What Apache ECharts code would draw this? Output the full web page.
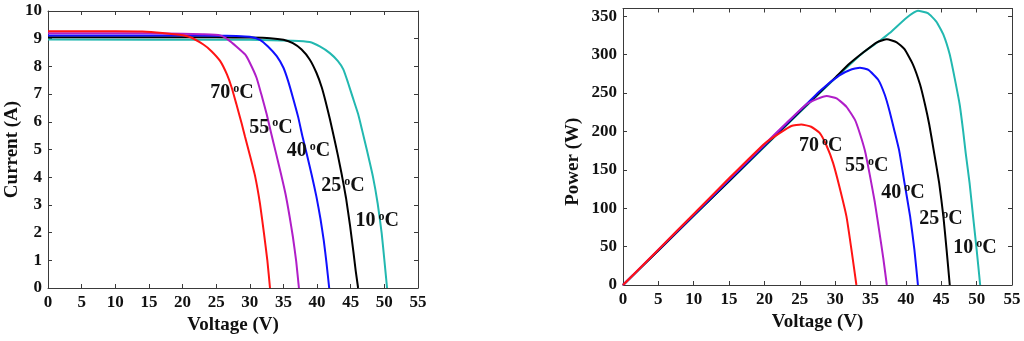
<!DOCTYPE html>
<html>
<head>
<meta charset="utf-8">
<script src="https://cdn.jsdelivr.net/npm/echarts@6/dist/echarts.min.js"></script>
<style>
  html, body { margin: 0; padding: 0; background: #fff; }
  #chart { width: 1024px; height: 341px; }
</style>
</head>
<body>
<div id="chart"></div>
<script>
// Module temperatures, one curve each
const temperatures = ['70', '55', '40', '25', '10'];

// I-V characteristics: [voltage V, current A]
const iv70 = [[0, 9.27], [10, 9.27], [14, 9.26], [17, 9.21], [19.5, 9.14], [21.1, 9.06], [23.1, 8.79], [24.3, 8.55], [25.6, 8.19], [26.6, 7.71], [27.3, 7.24], [28.0, 6.64], [28.8, 5.93], [29.3, 5.45], [30.0, 4.8], [30.8, 4.02], [31.5, 3.06], [32.1, 1.98], [32.6, 1.01], [33.0, 0]];
const iv55 = [[0, 9.2], [15, 9.2], [20, 9.18], [23, 9.16], [25.6, 9.12], [26.8, 8.96], [28.0, 8.72], [29.3, 8.43], [30.0, 8.13], [31.0, 7.59], [31.7, 7.0], [32.5, 6.28], [33.2, 5.56], [33.9, 4.86], [34.6, 4.15], [35.3, 3.4], [35.9, 2.6], [36.4, 1.85], [36.9, 0.95], [37.3, 0]];
const iv40 = [[0, 9.12], [20, 9.12], [25, 9.11], [28, 9.1], [30.0, 9.07], [31.5, 8.96], [32.7, 8.72], [34.0, 8.37], [35.0, 7.95], [35.7, 7.47], [36.4, 6.88], [37.2, 6.16], [37.8, 5.5], [38.5, 4.8], [39.2, 4.08], [39.9, 3.3], [40.5, 2.5], [41.0, 1.7], [41.4, 0.9], [41.8, 0]];
const iv25 = [[0, 9.05], [25, 9.05], [30, 9.04], [33.0, 9.02], [35.0, 8.96], [36.4, 8.84], [37.7, 8.61], [38.9, 8.25], [39.9, 7.77], [40.7, 7.24], [41.3, 6.7], [41.9, 6.1], [42.5, 5.45], [43.1, 4.78], [43.7, 4.05], [44.3, 3.25], [44.9, 2.25], [45.4, 1.3], [45.75, 0.6], [46.1, 0]];
const iv10 = [[0, 8.97], [30, 8.96], [36.4, 8.93], [38.9, 8.88], [40.4, 8.72], [41.9, 8.48], [43.1, 8.19], [43.9, 7.89], [44.6, 7.41], [45.3, 6.88], [46.1, 6.28], [46.7, 5.69], [47.4, 4.98], [48.3, 4.02], [49.0, 3.06], [49.6, 1.98], [50.0, 1.01], [50.4, 0]];

// P-V characteristics: [voltage V, power W]
const pv70 = [[0, 0], [5, 46], [10, 92.5], [15, 139], [20, 184], [22.2, 198], [23.8, 207], [25.2, 209], [26.6, 206], [27.8, 198], [28.8, 181], [29.7, 159], [30.6, 128], [31.6, 89], [32.3, 46], [33.0, 0]];
const pv55 = [[0, 0], [5, 46], [10, 92], [15, 138], [20, 183], [23, 210], [25.9, 235], [27.4, 242], [28.8, 246], [30.2, 243], [31.6, 232], [32.8, 215], [33.5, 197], [34.2, 175], [34.9, 143], [35.6, 108], [36.2, 72], [36.8, 35], [37.3, 0]];
const pv40 = [[0, 0], [5, 45.5], [10, 91], [15, 136.5], [20, 182], [25, 227], [28, 254], [30.6, 273], [32.1, 280], [33.5, 283], [34.7, 280], [36.1, 267], [37.0, 248], [37.7, 226], [38.4, 200], [39.05, 175], [39.8, 133], [40.6, 89], [41.2, 46], [41.7, 0]];
const pv25 = [[0, 0], [5, 45], [10, 90.5], [15, 135.5], [20, 181], [25, 226], [30, 270], [32, 288], [34, 303], [35.9, 316], [37.3, 320], [38.7, 316], [39.8, 307], [41.0, 287], [42.0, 261], [42.7, 235], [43.3, 209], [43.9, 177], [44.7, 133], [45.3, 89], [45.75, 46], [46.2, 0]];
const pv10 = [[0, 0], [5, 45], [10, 90], [15, 135], [20, 180], [25, 225], [30, 269], [34, 303], [36.3, 318], [37.7, 328], [40.1, 348], [41.7, 357], [43.1, 354], [44.3, 343], [45.3, 326], [46.2, 300], [46.9, 269], [47.6, 235], [48.1, 200], [48.45, 172], [49.0, 133], [49.5, 89], [50.0, 46], [50.5, 0]];

// Where each temperature tag sits (left edge, vertical centre), in data units
const ivTagAt = [[24.1, 7.05], [29.9, 5.8], [35.5, 4.95], [40.6, 3.7], [45.7, 2.44]];
const pvTagAt = [[24.9, 181.5], [31.4, 155.4], [36.5, 120.6], [41.9, 86], [46.7, 47.8]];

const ivCurves = [iv70, iv55, iv40, iv25, iv10];
const pvCurves = [pv70, pv55, pv40, pv25, pv10];
const curveColors = ['#ff1414', '#b01ec8', '#1010ff', '#000000', '#22b8b0'];

const FONT = 'Liberation Serif';
const INK = '#111';
const FRAME = '#3a3a3a';

function valueAxis(opts) {
  return Object.assign({
    type: 'value',
    axisLine: { show: true, onZero: false, lineStyle: { color: FRAME, width: 1 } },
    axisTick: { show: true, inside: true, length: 4, lineStyle: { color: FRAME, width: 1 } },
    splitLine: { show: false },
    axisLabel: { show: true, fontFamily: FONT, fontWeight: 'bold', fontSize: 17, color: INK, margin: 6 },
    nameTextStyle: { fontFamily: FONT, fontWeight: 'bold', fontSize: 19, color: INK }
  }, opts);
}

function mirrorAxis(opts) {
  const a = valueAxis(opts);
  a.axisLabel = { show: false };
  a.name = '';
  return a;
}

const voltageRange = { min: 0, max: 55, interval: 5 };
const currentRange = { min: 0, max: 10, interval: 1 };
const powerRange = { min: 0, max: 360, interval: 50 };

const xAxes = [
  valueAxis(Object.assign({ gridIndex: 0, position: 'bottom', name: 'Voltage (V)', nameLocation: 'middle', nameGap: 27 }, voltageRange)),
  mirrorAxis(Object.assign({ gridIndex: 0, position: 'top' }, voltageRange)),
  valueAxis(Object.assign({ gridIndex: 1, position: 'bottom', name: 'Voltage (V)', nameLocation: 'middle', nameGap: 27 }, voltageRange)),
  mirrorAxis(Object.assign({ gridIndex: 1, position: 'top' }, voltageRange))
];

const powerAxis = valueAxis(Object.assign({ gridIndex: 1, position: 'left', name: 'Power (W)', nameLocation: 'middle', nameGap: 40 }, powerRange));
powerAxis.axisLabel.showMaxLabel = false;
powerAxis.nameTextStyle.padding = [0, 30, 0, 0];

const yAxes = [
  valueAxis(Object.assign({ gridIndex: 0, position: 'left', name: 'Current (A)', nameLocation: 'middle', nameGap: 24 }, currentRange)),
  mirrorAxis(Object.assign({ gridIndex: 0, position: 'right' }, currentRange)),
  powerAxis,
  mirrorAxis(Object.assign({ gridIndex: 1, position: 'right' }, powerRange))
];

const tagRich = {
  n: { fontFamily: FONT, fontWeight: 'bold', fontSize: 20, color: INK },
  s: { fontFamily: FONT, fontWeight: 'bold', fontSize: 12, color: INK, verticalAlign: 'top', padding: [0, 0, 0, 3] }
};

function curveSeries(data, color, xi, yi) {
  return {
    type: 'line', xAxisIndex: xi, yAxisIndex: yi, data: data,
    showSymbol: false, symbol: 'none', smooth: 0.15, silent: true,
    lineStyle: { color: color, width: 2 }, z: 3
  };
}

function tagSeries(anchors, xi, yi) {
  return {
    type: 'scatter', xAxisIndex: xi, yAxisIndex: yi, silent: true, z: 5,
    symbolSize: 0,
    itemStyle: { opacity: 1, color: INK },
    data: anchors.map((p, i) => ({ value: p, name: temperatures[i] })),
    label: {
      show: true, position: 'right', distance: 0, color: INK, opacity: 1,
      formatter: (p) => '{n|' + p.name + '}{s|o}{n|C}',
      rich: tagRich
    }
  };
}

const series = [];
// draw the coolest curve first so the hottest ends up on top
for (let i = temperatures.length - 1; i >= 0; i--) {
  series.push(curveSeries(ivCurves[i], curveColors[i], 0, 0));
  series.push(curveSeries(pvCurves[i], curveColors[i], 2, 2));
}
series.push(tagSeries(ivTagAt, 0, 0));
series.push(tagSeries(pvTagAt, 2, 2));

const chart = echarts.init(document.getElementById('chart'), null, { renderer: 'canvas' });
chart.setOption({
  backgroundColor: '#ffffff',
  animation: false,
  grid: [
    { left: 48, top: 11, right: 606, bottom: 53, containLabel: false },
    { left: 623, top: 8.5, right: 12, bottom: 56, containLabel: false }
  ],
  xAxis: xAxes,
  yAxis: yAxes,
  series: series
});
</script>
</body>
</html>
